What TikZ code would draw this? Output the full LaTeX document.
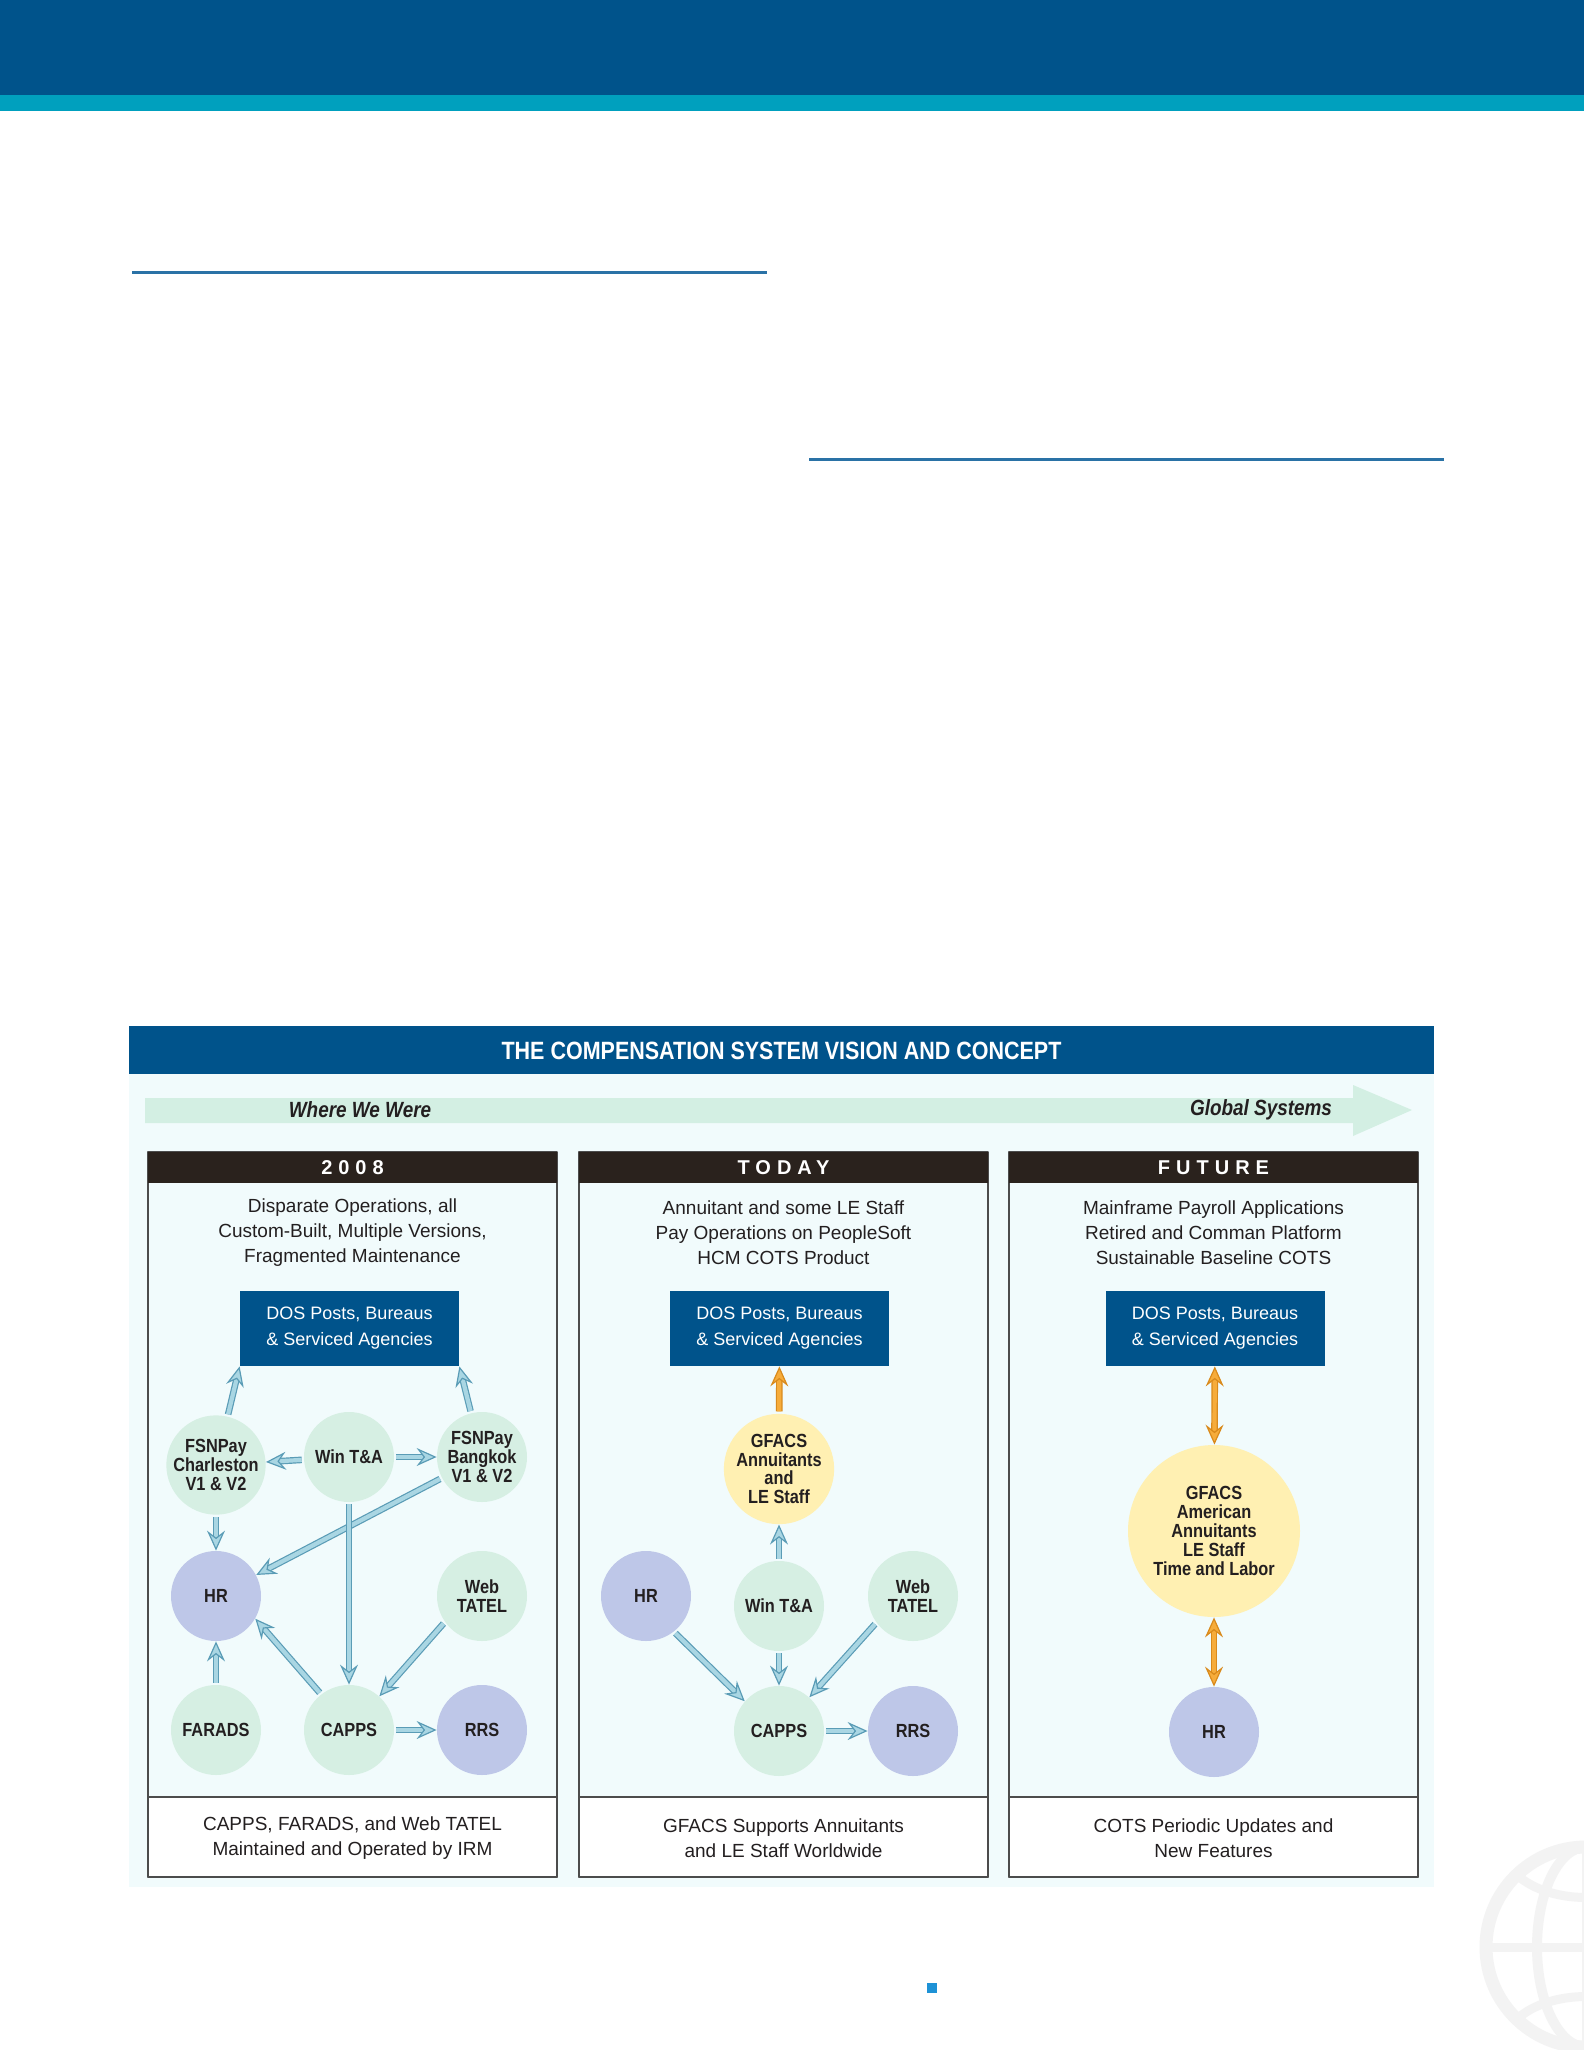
\documentclass[tikz,border=0pt]{standalone}
\usepackage{fontspec}
\setmainfont{Liberation Sans}
\newfontfamily\condfont[FakeStretch=0.86]{Liberation Sans}
\newfontfamily\headfont[LetterSpace=30]{Liberation Sans}
\usetikzlibrary{arrows.meta,positioning}

\definecolor{deepblue}{HTML}{00538B}
\definecolor{tealband}{HTML}{00A0BE}
\definecolor{rulecol}{HTML}{2A72A6}
\definecolor{panelbg}{HTML}{F1FBFC}
\definecolor{mintband}{HTML}{D3EFE3}
\definecolor{headbrown}{HTML}{2A221D}
\definecolor{greencirc}{HTML}{D6EFE3}
\definecolor{violetcirc}{HTML}{BEC7E8}
\definecolor{yellowcirc}{HTML}{FFF0B2}
\definecolor{flowfill}{HTML}{A9D6E3}
\definecolor{flowedge}{HTML}{5A9CB6}
\definecolor{orfill}{HTML}{F6AC3B}
\definecolor{oredge}{HTML}{D98A1C}
\definecolor{inkcol}{HTML}{231F20}
\definecolor{globecol}{HTML}{F3F3F3}
\definecolor{dotblue}{HTML}{1E92D6}

\begin{document}
\begin{tikzpicture}[x={(0.5pt,0pt)},y={(0pt,-0.5pt)},line join=round,
  sys/.style={circle,minimum size=45pt,inner sep=0pt,align=center,text=inkcol,
    font=\condfont\bfseries\fontsize{9.5}{9.4}\selectfont},
  green/.style={sys,fill=greencirc},
  violet/.style={sys,fill=violetcirc},
  yellow/.style={sys,fill=yellowcirc},
  dosbox/.style={fill=deepblue,text=white,minimum width=109.5pt,minimum height=37.5pt,
    inner sep=0pt,align=center,font=\fontsize{9}{13}\selectfont},
  desc/.style={align=center,text=inkcol,font=\fontsize{9.5}{12.5}\selectfont},
  colhead/.style={text=white,font=\headfont\bfseries\fontsize{10}{10}\selectfont},
  boxline/.style={draw=black!70,line width=0.6pt},
  flow/.style={draw=flowedge,line width=0.6pt,double=flowfill,double distance=2.1pt,
    -{Stealth[length=10pt,width=9pt,inset=3.5pt,fill=flowfill,color=flowedge,line width=0.6pt]},
    shorten <=1pt},
  oflow/.style={draw=oredge,line width=0.6pt,double=orfill,double distance=2.1pt,
    -{Stealth[length=10pt,width=9pt,inset=3.5pt,fill=orfill,color=oredge,line width=0.6pt]},
    shorten <=1pt},
  oflowboth/.style={draw=oredge,line width=0.6pt,double=orfill,double distance=2.1pt,
    {Stealth[length=10pt,width=9pt,inset=3.5pt,fill=orfill,color=oredge,line width=0.6pt]}-{Stealth[length=10pt,width=9pt,inset=3.5pt,fill=orfill,color=oredge,line width=0.6pt]}}]
  \useasboundingbox (0,0) rectangle (1584,2050);
  \fill[white] (0,0) rectangle (1584,2050);

  % page banner and rules
  \fill[deepblue] (0,0) rectangle (1584,95);
  \fill[tealband] (0,95) rectangle (1584,111);
  \draw[rulecol,line width=1.5pt] (132,272) -- (767,272);
  \draw[rulecol,line width=1.5pt] (809,459) -- (1444,459);

  % globe watermark
  \begin{scope}[globecol]
    \draw[line width=6.5pt] (1586,1947) circle (50pt);
    \draw[line width=5pt] (1586,1947) ellipse (24.5pt and 50pt);
    \draw[line width=4.5pt] (1486,1947) -- (1686,1947);
    \draw[line width=4.5pt] (1586,1847) -- (1586,2050);
    \draw[line width=4.5pt] (1517,1875) .. controls (1550,1905) and (1622,1905) .. (1655,1875);
    \draw[line width=4.5pt] (1517,2019) .. controls (1550,1989) and (1622,1989) .. (1655,2019);
  \end{scope}
  \fill[dotblue] (927,1983) rectangle (937,1993);

  % diagram panel
  \fill[panelbg] (129,1074) rectangle (1434,1887);
  \fill[deepblue] (129,1026) rectangle (1434,1074);
  \node[text=white,font=\condfont\bfseries\fontsize{12.5}{14}\selectfont] (title) at (781.5,1051)
    {THE COMPENSATION SYSTEM VISION AND CONCEPT};
  \fill[mintband] (145,1098) -- (1353,1098) -- (1353,1085) -- (1412,1110) -- (1353,1136)
    -- (1353,1123) -- (145,1123) -- cycle;
  \node[text=inkcol,font=\condfont\bfseries\itshape\fontsize{11}{12}\selectfont] (past) at (360,1110) {Where We Were};
  \node[text=inkcol,font=\condfont\bfseries\itshape\fontsize{11}{12}\selectfont] (global) at (1261,1110) {Global Systems};

  % column frames
  \draw[boxline,fill=panelbg] (148,1152) rectangle (557,1877);
  \draw[boxline,fill=panelbg] (579,1152) rectangle (988,1877);
  \draw[boxline,fill=panelbg] (1009,1152) rectangle (1418,1877);
  \fill[headbrown] (148,1152) rectangle (557,1183);
  \fill[headbrown] (579,1152) rectangle (988,1183);
  \fill[headbrown] (1009,1152) rectangle (1418,1183);
  \draw[boxline,fill=white] (148,1797) rectangle (557,1877);
  \draw[boxline,fill=white] (579,1797) rectangle (988,1877);
  \draw[boxline,fill=white] (1009,1797) rectangle (1418,1877);
  \node[colhead] (headA) at (352.5,1168) {2008};
  \node[colhead] (headB) at (783.5,1168) {TODAY};
  \node[colhead] (headC) at (1213.5,1168) {FUTURE};

  % 2008
  \node[desc] (descA) at (352.5,1233) {Disparate Operations, all\\Custom-Built, Multiple Versions,\\Fragmented Maintenance};
  \node[dosbox] (dosA) at (349.5,1328.5) {DOS Posts, Bureaus\\\& Serviced Agencies};
  \node[green] (charlA) at (216,1465) {FSNPay\\Charleston\\V1 \& V2};
  \node[green] (winA) at (349,1457) {Win T\&A};
  \node[green] (bangA) at (482,1457) {FSNPay\\Bangkok\\V1 \& V2};
  \node[violet] (hrA) at (216,1596) {HR};
  \node[green] (webA) at (482,1596) {Web\\TATEL};
  \node[green] (faradsA) at (216,1730) {FARADS};
  \node[green] (cappsA) at (349,1730) {CAPPS};
  \node[violet] (rrsA) at (482,1730) {RRS};
  \node[desc] (footA) at (352.5,1838) {CAPPS, FARADS, and Web TATEL\\Maintained and Operated by IRM};

  \draw[flow] (charlA) -- (dosA.south west);
  \draw[flow] (bangA) -- (dosA.south east);
  \draw[flow] (winA) -- (charlA);
  \draw[flow] (winA) -- (bangA);
  \draw[flow] (bangA) -- (hrA);
  \draw[flow] (winA) -- (cappsA);
  \draw[flow] (charlA) -- (hrA);
  \draw[flow] (webA.215) -- (cappsA.48);
  \draw[flow] (cappsA.128) -- (hrA.-30);
  \draw[flow] (faradsA) -- (hrA);
  \draw[flow] (cappsA) -- (rrsA);

  % today
  \node[desc] (descB) at (783.5,1233) {Annuitant and some LE Staff\\Pay Operations on PeopleSoft\\HCM COTS Product};
  \node[dosbox] (dosB) at (779.5,1328.5) {DOS Posts, Bureaus\\\& Serviced Agencies};
  \node[yellow,minimum size=55pt] (gfacsB) at (779,1469) {GFACS\\Annuitants\\and\\LE Staff};
  \node[violet] (hrB) at (646,1596) {HR};
  \node[green] (winB) at (779,1606) {Win T\&A};
  \node[green] (webB) at (913,1596) {Web\\TATEL};
  \node[green] (cappsB) at (779,1731) {CAPPS};
  \node[violet] (rrsB) at (913,1731) {RRS};
  \node[desc] (footB) at (783.5,1838) {GFACS Supports Annuitants\\and LE Staff Worldwide};

  \draw[oflow] (gfacsB) -- (dosB);
  \draw[flow] (winB) -- (gfacsB);
  \draw[flow] (winB) -- (cappsB);
  \draw[flow] (hrB.-52) -- (cappsB.139);
  \draw[flow] (webB.-144) -- (cappsB.48);
  \draw[flow] (cappsB) -- (rrsB);

  % future
  \node[desc] (descC) at (1213.5,1233) {Mainframe Payroll Applications\\Retired and Comman Platform\\Sustainable Baseline COTS};
  \node[dosbox] (dosC) at (1215,1328.5) {DOS Posts, Bureaus\\\& Serviced Agencies};
  \node[yellow,minimum size=86pt] (gfacsC) at (1214,1531) {GFACS\\American\\Annuitants\\LE Staff\\Time and Labor};
  \node[violet] (hrC) at (1214,1732) {HR};
  \node[desc] (footC) at (1213.5,1838) {COTS Periodic Updates and\\New Features};

  \draw[oflowboth] (dosC) -- (gfacsC);
  \draw[oflowboth] (gfacsC) -- (hrC);
\end{tikzpicture}
\end{document}
